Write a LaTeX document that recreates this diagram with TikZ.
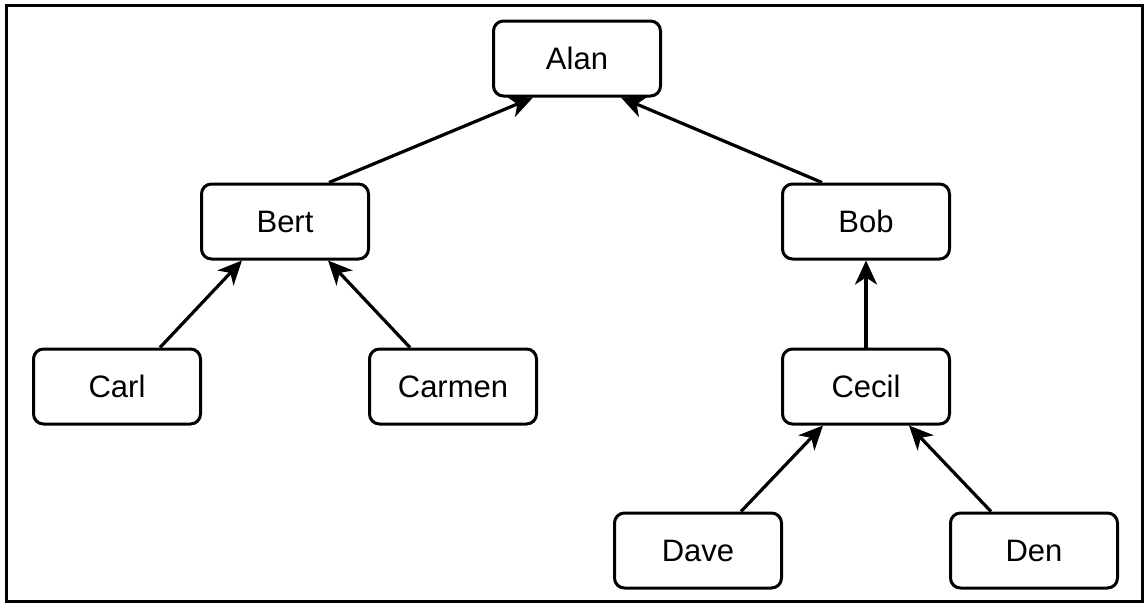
\documentclass[tikz,border=0pt]{standalone}
\usepackage{fontspec}
\setmainfont{Liberation Sans}
\usetikzlibrary{arrows.meta}

\begin{document}
\begin{tikzpicture}[x=0.5pt,y=-0.5pt,
    personne/.style={rectangle,draw,rounded corners=5pt,line width=1.5pt,
      minimum width=83.5pt,minimum height=37.5pt,inner sep=0pt,
      font=\fontsize{15.5}{18}\selectfont},
    lien/.style={line width=1.6pt,-{Stealth[length=12pt,width=11pt,inset=3.5pt]}}]
      % Cadre extérieur
      \useasboundingbox (0,0) rectangle (1147,605);
      \draw[line width=1.5pt] (6,5) rectangle (1142,601);

      % Les personnes
      \node[personne] (Alan) at (577,58.5) {Alan};
      \node[personne] (Bert) at (285,221.5) {Bert};
      \node[personne] (Bob) at (866,221.5) {Bob};
      \node[personne] (Carl) at (117,386.5) {Carl};
      \node[personne] (Carmen) at (453,386.5) {Carmen};
      \node[personne] (Cecil) at (866,386.5) {Cecil};
      \node[personne] (Dave) at (698,550.5) {Dave};
      \node[personne] (Den) at (1034,550.5) {Den};

      % Flèches vers le parent
      \draw[lien] ([xshift=22pt]Bert.north) -- ([xshift=-22pt]Alan.south);
      \draw[lien] ([xshift=-22pt]Bob.north) -- ([xshift=22pt]Alan.south);
      \draw[lien] ([xshift=21.5pt]Carl.north) -- ([xshift=-21.5pt]Bert.south);
      \draw[lien] ([xshift=-21.5pt]Carmen.north) -- ([xshift=21.5pt]Bert.south);
      \draw[lien] (Cecil.north) -- (Bob.south);
      \draw[lien] ([xshift=21.5pt]Dave.north) -- ([xshift=-21.5pt]Cecil.south);
      \draw[lien] ([xshift=-21.5pt]Den.north) -- ([xshift=21.5pt]Cecil.south);
    \end{tikzpicture}
\end{document}
